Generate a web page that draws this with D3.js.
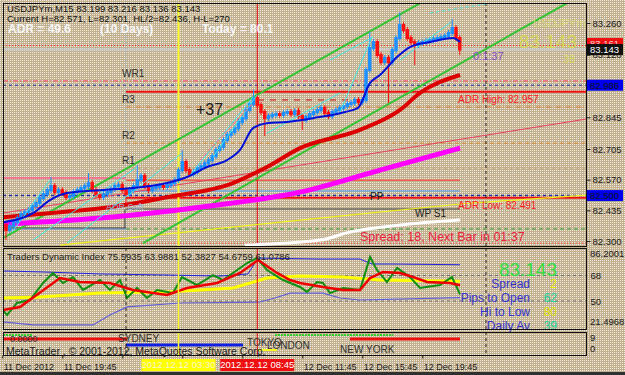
<!DOCTYPE html>
<html>
<head>
<meta charset="utf-8">
<script src="https://cdn.jsdelivr.net/npm/d3@7"></script>
<style>
  body { margin: 0; background: #c9b897; }
  svg text { font-family: "Liberation Sans", Arial, sans-serif; }
</style>
</head>
<body>
<svg id="chart" width="625" height="375"></svg>
<script>
// ---- data (hours are counted from 12 Dec 2012 00:00, M15 bars) ----
const barStart = -8.25
const barStep = 0.25
const firstOpen = 82.392
const barCloses = [
  82.370, 82.348, 82.366, 82.383, 82.401, 82.419, 82.427, 82.436, 82.454, 82.467,
  82.489, 82.507, 82.524, 82.542, 82.516, 82.524, 82.511, 82.493, 82.498, 82.516,
  82.524, 82.533, 82.542, 82.555, 82.524, 82.502, 82.493, 82.507, 82.516, 82.529,
  82.542, 82.546, 82.524, 82.507, 82.524, 82.542, 82.568, 82.586, 82.542, 82.524,
  82.533, 82.538, 82.542, 82.538, 82.546, 82.555, 82.568, 82.612, 82.648, 82.612,
  82.595, 82.604, 82.621, 82.630, 82.643, 82.656, 82.674, 82.701, 82.714, 82.745,
  82.767, 82.780, 82.797, 82.824, 82.841, 82.877, 82.903, 82.930, 82.899, 82.868,
  82.841, 82.850, 82.855, 82.859, 82.855, 82.864, 82.868, 82.859, 82.872, 82.850,
  82.833, 82.846, 82.859, 82.868, 82.877, 82.886, 82.864, 82.850, 82.868, 82.877,
  82.886, 82.894, 82.903, 82.908, 82.921, 82.912, 82.921, 83.053, 83.150, 83.176,
  83.119, 83.088, 83.106, 83.088, 83.141, 83.194, 83.251, 83.229, 83.194, 83.176,
  83.163, 83.172, 83.176, 83.181, 83.185, 83.190, 83.194, 83.198, 83.203, 83.216,
  83.238, 83.194, 83.143
]
// [bar index, high, low] where a bar has a longer wick
const barSpikes = [
  [1, null, 82.317], [13, 82.568, null], [23, 82.586, null], [33, null, 82.480],
  [36, 82.621, null], [48, 82.687, null], [67, 82.952, null], [70, null, 82.775],
  [80, null, 82.802], [98, 83.207, null], [103, null, 82.921], [106, 83.295, null],
  [110, null, 83.088], [120, 83.264, null], [122, null, 83.132]
]

const maBlue = [
  [-8.2, 82.383], [-6.2, 82.423], [-5.07, 82.480], [-3.93, 82.511], [-1.73, 82.524],
  [0.47, 82.533], [2.73, 82.555], [4.07, 82.582], [5.4, 82.626], [6.73, 82.656],
  [7.6, 82.701], [8.47, 82.797], [9.4, 82.819], [10.73, 82.824], [12.47, 82.841],
  [14.6, 82.868], [15.47, 82.886], [16.27, 82.996], [16.93, 83.031], [18.07, 83.110],
  [18.93, 83.154], [20.27, 83.176], [21.8, 83.194], [22.27, 83.176]
]
const maRed = [
  [-8.2, 82.405], [-4.4, 82.427], [-1.07, 82.449], [2.73, 82.493], [7.13, 82.555],
  [9.4, 82.626], [11.6, 82.709], [15.6, 82.789], [18.27, 82.877], [19.6, 82.952],
  [22.27, 83.031]
]
const maMagenta = [
  [-8.2, 82.375], [-1.07, 82.405], [4.93, 82.449], [11.6, 82.515], [16.93, 82.612],
  [22.27, 82.709]
]
const thinRedLine = [[-8.2, 82.423], [30.67, 82.837]]
const yellowLine = [[-4.4, 82.282], [12.93, 82.401], [22.27, 82.463], [30.67, 82.502]]
const whiteLine = [[7.93, 82.282], [12.93, 82.304], [14.93, 82.339], [18.27, 82.370], [22.27, 82.392]]
const channelUpper = [[-8.2, 82.313], [20, 83.362]]
const channelLower = [[1.13, 82.291], [29.4, 83.348]]
const zigzagCyan = [
  [[-7.6, 82.339], [-5.07, 82.568]],
  [[-6.2, 82.304], [0.73, 82.626]],
  [[-3.93, 82.291], [3.73, 82.687]],
  [[4.27, 82.590], [8.47, 82.934]],
  [[5.8, 82.670], [8.73, 82.943]],
  [[9.4, 82.775], [14.27, 82.952]],
  [[13.6, 83.097], [16.47, 83.198]],
  [[14.27, 82.868], [16.4, 83.198]],
  [[18.27, 83.097], [21.67, 83.264]]
]
const zigzagCyanDashed = [[20.27, 83.304], [24.4, 83.348]]
const zigzagPink = [[4.93, 82.656], [8.47, 82.908]]

// horizontal levels: [name, price, from hour, to hour]
const levels = [
  ['bidDots', 83.161, -8.2, 30.7], ['bid', 83.143, -8.2, 30.7],
  ['wr1', 83.005, -8.2, 30.7], ['blueDash', 82.986, -8.2, 30.7],
  ['adrHigh', 82.957, 0, 30.7], ['redDash', 82.921, 8.8, 16],
  ['r3', 82.890, 0, 30.7], ['r2', 82.731, 0, 30.7], ['r1', 82.621, 0, 30.7],
  ['pinkPrev', 82.577, -8.2, 0], ['salmon', 82.568, 0, 22.27],
  ['lightBlue', 82.520, 0, 22.27], ['pp', 82.500, -8.2, 30.7],
  ['adrLow', 82.491, 0, 30.7], ['dayOpen', 82.441, 0, 22.27],
  ['prevOpen', 82.357, -8.2, 0], ['prevBlue', 82.353, -8.2, 0],
  ['greenDash', 82.353, 0, 30.7], ['redDots', 82.291, 0, 30.7]
]
const levelLabels = [['WR1', 83.005], ['R3', 82.890], ['R2', 82.731], ['R1', 82.621]]

const priceTicks = [83.260, 83.120, 82.980, 82.845, 82.705, 82.570, 82.435, 82.300]
const hiddenPriceTicks = [82.980]
const axisMarks = [83.161, 83.143, 82.986, 82.500]

const tdiUpper = [
  [-8.2, 71.2], [-5.53, 70.5], [-1.73, 69.1], [2.93, 68.3], [6.27, 67.6], [8.13, 69.1],
  [8.8, 80.3], [12.93, 79.6], [15.6, 79.6], [16.4, 76.1], [17.8, 76.1], [22.27, 75.59]
]
const tdiLower = [
  [-8.2, 35.2], [-6.2, 33.1], [-2.2, 33.1], [-1.07, 40.1], [0.07, 45.8], [3.6, 48.6],
  [8.93, 49.3], [9.93, 52.1], [10.93, 55.6], [13.13, 55.6], [14.27, 52.1], [15.6, 50.7],
  [22.27, 52.38]
]
const tdiYellow = [
  [-8.2, 52.1], [-5.73, 52.8], [-1.73, 55.6], [2.73, 56.4], [4.93, 57.8], [7.13, 59.2],
  [9.4, 66.2], [11.6, 67.6], [14.47, 66.9], [16.93, 64.8], [22.27, 63.99]
]
const tdiRed = [
  [-8.2, 43.6], [-7.07, 45.8], [-4.4, 66.2], [-3.07, 63.4], [-1.07, 62.7], [0.47, 57.8],
  [2.73, 54.2], [4.07, 59.2], [6.07, 62.7], [7.6, 69.8], [8.8, 78.9], [10.07, 69.8],
  [10.93, 64.8], [11.6, 62.7], [13.13, 59.9], [14.47, 57.8], [15.6, 57.8], [16.27, 66.2],
  [17.13, 70.5], [18.27, 69.8], [19.13, 66.9], [20.07, 63.4], [21.6, 62.7], [22.27, 61.08]
]
const tdiGreen = [
  [-8.2, 43.6], [-7.93, 40.1], [-7.27, 48.6], [-6.4, 50.7], [-5.53, 62.7], [-4.87, 69.8],
  [-4.2, 62.7], [-3.53, 66.9], [-2.87, 57.8], [-1.73, 64.8], [-1.07, 57.8], [-0.4, 64.8],
  [0.07, 52.1], [0.73, 59.2], [1.4, 52.1], [2.07, 57.8], [3.13, 55.6], [3.73, 66.9],
  [4.73, 61.3], [5.8, 68.3], [6.47, 64.8], [7.13, 69.8], [8.07, 76.8], [8.73, 80.3],
  [9.4, 71.9], [10.47, 64.8], [11.6, 59.9], [12.07, 56.4], [12.73, 63.4], [13.13, 62.7],
  [13.6, 55.6], [14.47, 59.2], [15.6, 57.8], [16.27, 81.1], [16.73, 71.9], [17.4, 63.4],
  [18.07, 73.3], [18.93, 66.9], [19.6, 59.2], [20.93, 61.3], [21.73, 66.9], [22.27, 54.68]
]
const tdiLevels = [68, 50]
const tdiHeader = [75.5935, 63.9881, 52.3827, 54.6759, 61.0786]

// session bars: [session, from hour, to hour]
const sessionLines = [
  ['london', -8.2, -6.2], ['newyork', -8.2, 0.07], ['tokyo', 0, 7.8],
  ['yellow', 8.73, 10.07], ['london', 9.93, 17.8], ['newyork', 14.93, 22.27]
]
const sessionNames = [['SYDNEY', -0.53], ['TOKYO', 8.07], ['LONDON', 9.4], ['NEW YORK', 14.27]]

const timeTicks = [-8.25, -4.25, -0.25, 3.75, 7.75, 11.75, 15.75, 19.75]
const timeLabels = ['11 Dec 2012', '11 Dec 19:45', '11 Dec 23:45', '', '',
  '12 Dec 11:45', '12 Dec 15:45', '12 Dec 19:45']
const dayBreaks = [0, 24]
const markerYellow = 3.5
const markerRed = 8.75

const infoNames = ['Spread', 'Pips to Open', 'Hi to Low', 'Daily Av']
const infoValues = ['2', '62', '80', '39']

// ---- layout ----
const W = 625, H = 375
const left = 3, right = 586
const main = { top: 3, bottom: 246 }
const ind = { top: 248, bottom: 329 }
const ses = { top: 332, bottom: 355 }

const x = d3.scaleLinear().domain([barStart, 22.25]).range([2.25, 459.75])
const y = d3.scaleLinear().domain([82.300, 83.260]).range([241, 23])
const yT = d3.scaleLinear().domain([50, 68]).range([301, 275.5])

const svg = d3.select('#chart')
const defs = svg.append('defs')

const pat = defs.append('pattern').attr('id', 'dots')
  .attr('width', 2).attr('height', 2).attr('patternUnits', 'userSpaceOnUse')
pat.append('rect').attr('width', 2).attr('height', 2).attr('fill', '#c2b08e')
pat.append('rect').attr('width', 1).attr('height', 1).attr('fill', '#eeeae0')
svg.append('rect').attr('width', W).attr('height', H).attr('fill', 'url(#dots)')

function clip(id, p) {
  defs.append('clipPath').attr('id', id).append('rect')
    .attr('x', left).attr('y', p.top).attr('width', right - left).attr('height', p.bottom - p.top)
}
clip('clipMain', main)
clip('clipInd', ind)
clip('clipSes', ses)
// hides the parts of texts that sit under other boxes
defs.append('clipPath').attr('id', 'clipRedMark').append('rect')
  .attr('x', 587).attr('y', 38).attr('width', 36).attr('height', 6)
defs.append('clipPath').attr('id', 'clipTimeLabel').append('rect')
  .attr('x', 0).attr('y', 356).attr('width', x(markerYellow) - 38).attr('height', 16)

const gMain = svg.append('g').attr('clip-path', 'url(#clipMain)')
const gInd = svg.append('g').attr('clip-path', 'url(#clipInd)')
const gSes = svg.append('g').attr('clip-path', 'url(#clipSes)')

const line = d3.line().x(d => x(d[0])).y(d => y(d[1]))
const smooth = d3.line().x(d => x(d[0])).y(d => y(d[1])).curve(d3.curveMonotoneX)
const lineT = d3.line().x(d => x(d[0])).y(d => yT(d[1]))

function path(g, data, gen, color, width, dash) {
  return g.append('path').datum(data).attr('d', gen).attr('fill', 'none')
    .attr('stroke', color).attr('stroke-width', width)
    .attr('stroke-dasharray', dash || null)
}

// ---- main panel ----
const levelStyle = {
  bidDots: ['#ff2020', 1, '1,2'], bid: ['#c8c8c8', 2, null],
  wr1: ['#ff4060', 1, '5,2,1,2'], blueDash: ['#2030a0', 1, '3,3'],
  adrHigh: ['#ee1010', 2, null], redDash: ['#cc1010', 1, '6,6'],
  r3: ['#e07a30', 1, '5,2,1,2'], r2: ['#d88a30', 1, '4,3'], r1: ['#c8a070', 1, '3,3'],
  pinkPrev: ['#ff6090', 1.5, null], salmon: ['#f06050', 1.5, null],
  lightBlue: ['#70a8e0', 1.5, null], pp: ['#2030a0', 1.5, '3,3'],
  adrLow: ['#ee1010', 2, null], dayOpen: ['#404040', 1, null],
  prevOpen: ['#303030', 1, null], prevBlue: ['#6090d0', 1, null],
  greenDash: ['#30a030', 1, '4,3'], redDots: ['#ff3040', 1, '1,2']
}
levels.forEach(([name, p, h0, h1]) => {
  const [c, w, d] = levelStyle[name]
  path(gMain, [[h0, p], [h1, p]], line, c, w, d)
})
// step between the two day opens
path(gMain, [[-0.07, 82.357], [-0.07, 82.441]], line, '#303030', 1)

// vertical markers
dayBreaks.forEach((h, i) => {
  gMain.append('line').attr('x1', x(h)).attr('x2', x(h)).attr('y1', main.top).attr('y2', main.bottom)
    .attr('stroke', i === 0 ? '#80b0e0' : '#202020').attr('stroke-dasharray', i === 0 ? '1,2' : '3,3')
})
gMain.append('line').attr('x1', x(markerYellow)).attr('x2', x(markerYellow))
  .attr('y1', main.top).attr('y2', main.bottom).attr('stroke', '#ffff30').attr('stroke-width', 2)
gMain.append('line').attr('x1', x(markerRed)).attr('x2', x(markerRed))
  .attr('y1', main.top).attr('y2', main.bottom).attr('stroke', '#dd0000')

// diagonal lines
path(gMain, thinRedLine, line, '#e84060', 1)
path(gMain, yellowLine, line, '#f0f020', 1.2)
path(gMain, whiteLine, smooth, '#ffffff', 3)
path(gMain, channelUpper, line, '#33c433', 2)
path(gMain, channelLower, line, '#33c433', 2)
path(gMain, maMagenta, smooth, '#ff00ff', 5)
path(gMain, maRed, smooth, '#dd0000', 4)

// bars
const bars = barCloses.map((c, i) => {
  const open = i === 0 ? firstOpen : barCloses[i - 1]
  const sp = barSpikes.find(s => s[0] === i)
  const hi = Math.max(open, c, sp && sp[1] ? sp[1] : 0)
  const lo = Math.min(open, c, sp && sp[2] ? sp[2] : 99)
  return { h: barStart + barStep * i, open, close: c, hi, lo }
})
const upColor = '#1e90ff', downColor = '#ff1010'
const gBars = gMain.append('g')
gBars.selectAll('line').data(bars).join('line')
  .attr('x1', d => x(d.h)).attr('x2', d => x(d.h))
  .attr('y1', d => y(d.hi) - 3).attr('y2', d => y(d.lo) + 3)
  .attr('stroke', d => d.close >= d.open ? upColor : downColor)
gBars.selectAll('rect').data(bars).join('rect')
  .attr('x', d => x(d.h) - 1.75).attr('width', 3.5)
  .attr('y', d => y(Math.max(d.open, d.close)) - 1)
  .attr('height', d => Math.max(2.5, Math.abs(y(d.open) - y(d.close)) + 2))
  .attr('fill', d => d.close >= d.open ? upColor : downColor)

zigzagCyan.forEach(seg => path(gMain, seg, line, '#40e8e8', 1))
path(gMain, zigzagCyanDashed, line, '#40e8e8', 1, '3,3')
path(gMain, zigzagPink, line, '#ff6080', 1, '4,2')
path(gMain, maBlue, smooth, '#0010d8', 2)

// main labels
levelLabels.forEach(([t, p]) => {
  svg.append('text').attr('x', 122).attr('y', y(p) - 4).attr('font-size', 10)
    .attr('fill', '#303030').text(t)
})
svg.append('text').attr('x', x(16.27)).attr('y', y(82.48)).attr('font-size', 10).attr('fill', '#202020').text('PP')
svg.append('text').attr('x', x(19.27)).attr('y', y(82.405)).attr('font-size', 10).attr('fill', '#202020').text('WP  S1')
svg.append('text').attr('x', 196).attr('y', 115).attr('font-size', 16).attr('fill', '#202020').text('+37')
svg.append('text').attr('x', 106).attr('y', 210).attr('font-size', 9).attr('fill', '#9cb4dc').text('ADR Soft')
svg.append('text').attr('x', 458).attr('y', 103).attr('font-size', 10).attr('fill', '#ff2020').text('ADR High: 82.957')
svg.append('text').attr('x', 458).attr('y', 209).attr('font-size', 10).attr('fill', '#ff2020').text('ADR Low: 82.491')
svg.append('text').attr('x', 473).attr('y', 60).attr('font-size', 11).attr('fill', '#8a4cc8').text('0:1:37')
svg.append('text').attr('x', 533).attr('y', 27).attr('font-size', 11).attr('fill', '#d8d878').text('USDJPYm')
svg.append('text').attr('x', 519).attr('y', 48).attr('font-size', 19).attr('fill', '#d4d45a').text('83.143')
svg.append('text').attr('x', 563).attr('y', 63).attr('font-size', 11).attr('fill', '#d8d860').text('38')
svg.append('text').attr('x', 360).attr('y', 241).attr('font-size', 12.5)
  .attr('font-family', '"Liberation Mono", monospace').attr('fill', '#ee2040')
  .text('Spread: 18, Next Bar in 01:37')

svg.append('text').attr('x', 7).attr('y', 12).attr('font-size', 9.5).attr('fill', '#101010')
  .text('USDJPYm,M15  83.199 83.216 83.136 83.143')
svg.append('text').attr('x', 7).attr('y', 22).attr('font-size', 9.5).attr('fill', '#101010')
  .text('Current H=82.571, L=82.301, HL/2=82.436, H-L=270')
const adr = svg.append('g').attr('font-family', '"Liberation Mono", monospace')
  .attr('font-size', 12).attr('font-weight', 'bold').attr('fill', '#f6f6f6')
adr.append('text').attr('x', 8).attr('y', 33).text('ADR = 49.6')
adr.append('text').attr('x', 100).attr('y', 33).text('(10 Days)')
adr.append('text').attr('x', 202).attr('y', 33).text('Today = 80.1')

// ---- indicator panel ----
tdiLevels.forEach(v => {
  gInd.append('line').attr('x1', left).attr('x2', right).attr('y1', yT(v)).attr('y2', yT(v))
    .attr('stroke', '#707070').attr('stroke-dasharray', '3,3')
})
path(gInd, tdiUpper, lineT, '#2020e0', 1)
path(gInd, tdiLower, lineT, '#6060d8', 1.2)
path(gInd, tdiYellow, lineT, '#ffff00', 3)
path(gInd, tdiGreen, lineT, '#109010', 2)
path(gInd, tdiRed, lineT, '#ee0000', 2.5)

svg.append('text').attr('x', 7).attr('y', 260).attr('font-size', 9.5).attr('fill', '#202020')
  .text('Traders Dynamic Index ' + tdiHeader.join(' '))
svg.append('text').attr('x', 557).attr('y', 276).attr('text-anchor', 'end')
  .attr('font-size', 19).attr('fill', '#33dd44').text('83.143')
const infoColors = ['#e8e800', '#20d0a0', '#e0e000', '#20d0a0']
infoNames.forEach((t, i) => {
  svg.append('text').attr('x', 530).attr('y', 288 + i * 14).attr('text-anchor', 'end')
    .attr('font-size', 12).attr('fill', '#3333cc').text(t)
  svg.append('text').attr('x', 557).attr('y', 288 + i * 14).attr('text-anchor', 'end')
    .attr('font-size', 12).attr('fill', infoColors[i]).text(infoValues[i])
})

// ---- session panel ----
const sesStyle = {
  london: [335, '#30d030', 2, '2,1'], newyork: [339, '#ee1010', 3, null],
  tokyo: [345, '#1020e0', 3, null], yellow: [350, '#ffff20', 2, null]
}
sessionLines.forEach(([s, h0, h1]) => {
  const [yy, c, w, d] = sesStyle[s]
  gSes.append('line').attr('x1', x(h0)).attr('x2', x(h1)).attr('y1', yy).attr('y2', yy)
    .attr('stroke', c).attr('stroke-width', w).attr('stroke-dasharray', d)
})
sessionNames.forEach(([t, h], i) => {
  svg.append('text').attr('x', x(h)).attr('y', [342, 346, 349, 353][i])
    .attr('font-size', 10).attr('fill', '#303030').text(t)
})
svg.append('text').attr('x', 10).attr('y', 342).attr('font-size', 9).attr('fill', '#303030').text('0.0000')
svg.append('text').attr('x', 6).attr('y', 355).attr('font-size', 10.5).attr('fill', '#202020')
  .text('MetaTrader , \u00a9 2001-2012, MetaQuotes Software Corp.')

// verticals through the lower panels
;[[gInd, ind], [gSes, ses]].forEach(([g, p]) => {
  dayBreaks.forEach(h => {
    g.append('line').attr('x1', x(h)).attr('x2', x(h)).attr('y1', p.top).attr('y2', p.bottom)
      .attr('stroke', '#202020').attr('stroke-dasharray', '3,3')
  })
  g.append('line').attr('x1', x(markerYellow)).attr('x2', x(markerYellow)).attr('y1', p.top)
    .attr('y2', p.bottom).attr('stroke', '#ffff30').attr('stroke-width', 1.5)
  g.append('line').attr('x1', x(markerRed)).attr('x2', x(markerRed)).attr('y1', p.top)
    .attr('y2', p.bottom).attr('stroke', '#dd0000')
})

// panel frames
;[main, ind, ses].forEach(p => {
  svg.append('rect').attr('x', left + 0.5).attr('y', p.top + 0.5)
    .attr('width', right - left).attr('height', p.bottom - p.top)
    .attr('fill', 'none').attr('stroke', '#101010')
})

// ---- axes ----
const priceAxis = svg.append('g').attr('transform', `translate(${right + 0.5},0)`)
  .call(d3.axisRight(y).tickValues(priceTicks)
    .tickFormat(d => hiddenPriceTicks.includes(d) ? '' : d3.format('.3f')(d))
    .tickSize(4).tickPadding(2))
priceAxis.select('.domain').remove()
priceAxis.selectAll('text').attr('font-size', 9.5).attr('fill', '#202020').attr('font-family', null)
priceAxis.selectAll('line').attr('stroke', '#202020')

const tdiAxis = svg.append('g').attr('transform', `translate(${right + 0.5},0)`)
  .call(d3.axisRight(yT).tickValues(tdiLevels).tickSize(0).tickPadding(4))
tdiAxis.select('.domain').remove()
tdiAxis.selectAll('text').attr('font-size', 9.5).attr('fill', '#202020').attr('font-family', null)
const sideLabels = [['86.2001', 254], ['21.4968', 322], ['9', 338], ['0', 349]]
sideLabels.forEach(([t, yy]) => {
  svg.append('text').attr('x', 590).attr('y', yy).attr('dy', '0.32em')
    .attr('font-size', 9.5).attr('fill', '#202020').text(t)
})

const markColors = [['#ee1010', '#f0d0d0'], ['#101010', '#ffffff'], ['#0000ee', '#101010'], ['#0000ee', '#101010']]
axisMarks.forEach((p, i) => {
  const yy = i === 0 ? y(p) - 2 : y(p)
  svg.append('rect').attr('x', 587).attr('y', yy - 5.5).attr('width', 36).attr('height', 11)
    .attr('fill', markColors[i][0])
  svg.append('text').attr('x', 590).attr('y', yy).attr('dy', '0.35em').attr('font-size', 9.5)
    .attr('clip-path', i === 0 ? 'url(#clipRedMark)' : null)
    .attr('fill', markColors[i][1]).text(p.toFixed(3))
})

const timeAxis = svg.append('g').attr('transform', `translate(0,${ses.bottom + 0.5})`)
  .call(d3.axisBottom(x).tickValues(timeTicks).tickFormat((d, i) => timeLabels[i]).tickSize(3).tickPadding(5))
timeAxis.select('.domain').remove()
timeAxis.selectAll('line').attr('stroke', '#202020')
timeAxis.selectAll('text').attr('text-anchor', 'start').attr('dx', 1)
  .attr('font-size', 9).attr('fill', '#202020').attr('font-family', null)
  .attr('clip-path', (d, i) => i === 2 ? 'url(#clipTimeLabel)' : null)

const timeMarks = [[markerYellow, '2012.12.12 03:30', '#ffff00', '#f8f8d0'], [markerRed, '2012.12.12 08:45', '#ee1010', '#ffffff']]
timeMarks.forEach(([h, t, bg, fg]) => {
  svg.append('rect').attr('x', x(h) - 37).attr('y', 359).attr('width', 74).attr('height', 12).attr('fill', bg)
  svg.append('text').attr('x', x(h)).attr('y', 365).attr('dy', '0.35em').attr('text-anchor', 'middle')
    .attr('font-size', 9.5).attr('fill', fg).text(t)
})

svg.append('rect').attr('x', 0).attr('y', 372).attr('width', W).attr('height', 3).attr('fill', '#303030')
</script>
</body>
</html>
